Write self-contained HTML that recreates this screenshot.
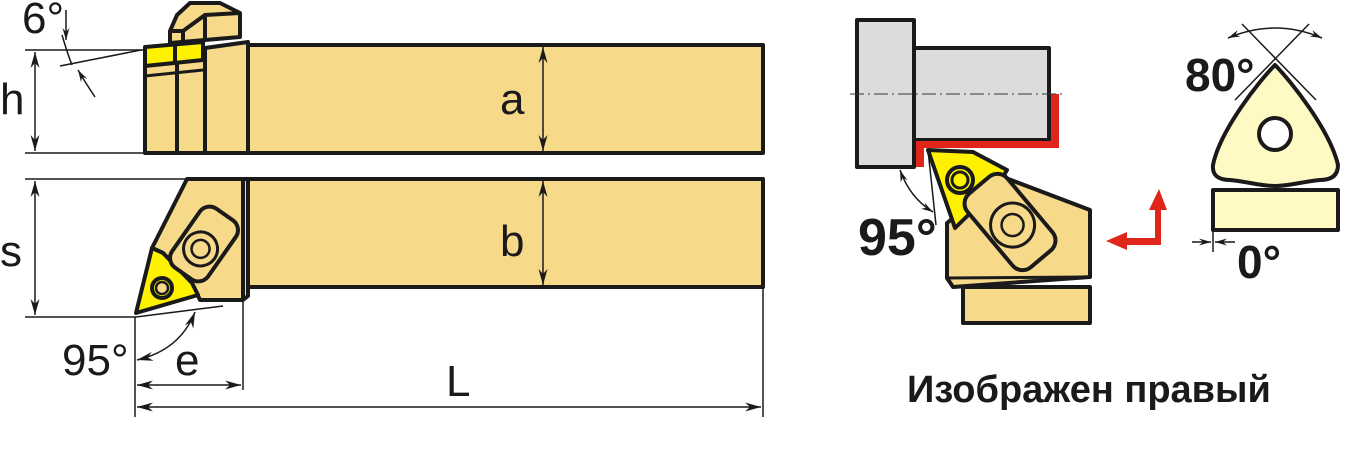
<!DOCTYPE html>
<html><head><meta charset="utf-8"><style>html,body{margin:0;padding:0;background:#fff}svg{display:block}</style></head>
<body>
<svg width="1358" height="467" viewBox="0 0 1358 467" xmlns="http://www.w3.org/2000/svg" font-family="Liberation Sans, sans-serif">
<defs>
<marker id="ar" viewBox="0 0 16 9" refX="16" refY="4.5" markerWidth="16" markerHeight="9" markerUnits="userSpaceOnUse" orient="auto-start-reverse"><path d="M0,0 L16,4.5 L0,9 L5,4.5 Z" fill="#1a1a1a"/></marker>
<marker id="as" viewBox="0 0 12 7" refX="12" refY="3.5" markerWidth="12" markerHeight="7" markerUnits="userSpaceOnUse" orient="auto-start-reverse"><path d="M0,0 L12,3.5 L0,7 L4,3.5 Z" fill="#1a1a1a"/></marker>
</defs>
<g stroke="#1a1a1a" stroke-width="4" stroke-linejoin="round" fill="#F7D98A">
<rect x="248" y="45" width="515" height="108"/>
<path d="M145,153 L145,58 L205,48 L248,42 L248,153 Z"/>
<line x1="177" y1="52" x2="177" y2="153"/>
<line x1="205" y1="48" x2="205" y2="153"/>
<path d="M145,47 L203,42 L203,60 L145,66 Z" fill="#FFF200"/>
<line x1="175" y1="44" x2="175" y2="63"/>
<path d="M145,76 L203,70" fill="none" stroke-width="3"/>
<path d="M170,43 L170,31 L177,15 L190,3 L220,3 L240,13 L240,37 L205,40 Z"/>
<path d="M170,31 L183,31 L205,15 L205,39 M183,31 L183,42 M205,15 L240,13" fill="none"/>
<rect x="248" y="179" width="515" height="108"/>
<path d="M187,179 L248,179 L248,296 L243,300 L200,300 L192,283 L163,253 L152,248 Z"/>
<line x1="243" y1="179" x2="243" y2="300"/>
<path d="M152,248 L163,253 L192,283 L198,295 L136,313 Z" fill="#FFF200"/>
<circle cx="162" cy="288" r="10" fill="#FFF200"/>
<circle cx="162" cy="288" r="6" fill="#F7D98A" stroke-width="2.5"/>
<g transform="translate(204,244) rotate(-55)">
<rect x="-36" y="-22" width="72" height="44" rx="12" fill="#F7D98A"/>
<circle cx="-6" cy="0" r="17" fill="#F7D98A" stroke-width="3"/>
<circle cx="-6" cy="0" r="9" fill="none" stroke-width="2.5"/>
</g>
<rect x="857" y="20" width="57" height="147" fill="#DCDCDC"/>
<rect x="914" y="48" width="135" height="92" fill="#DCDCDC"/>
</g>
<path d="M1051,94 L1059,94 L1059,148 L924,148 L924,167 L916,167 L916,141 L1051,141 Z" fill="#E0261B"/>
<line x1="850" y1="94" x2="1066" y2="94" stroke="#333" stroke-width="1" stroke-dasharray="14,4,2,4"/>
<g stroke="#1a1a1a" stroke-width="4" stroke-linejoin="round" fill="#F7D98A">
<rect x="963" y="287" width="127" height="36"/>
<path d="M947,223 L1003,177 L1090,210 L1090,277 L953,287 L947,278 Z"/>
<path d="M947,278 L1090,277" fill="none" stroke-width="3"/>
<path d="M928,150 L973,152 L1007,170 L997,187 L955,228 Z" fill="#FFF200"/>
<circle cx="960" cy="180" r="13" fill="#FFF200"/>
<circle cx="960" cy="180" r="8" fill="#FFF200" stroke-width="3"/>
<g transform="translate(1010,222) rotate(50)">
<rect x="-48" y="-26" width="96" height="52" rx="13" fill="#F7D98A"/>
<circle cx="4" cy="0" r="22" fill="#F7D98A" stroke-width="3"/>
<circle cx="4" cy="0" r="11" fill="none" stroke-width="2.5"/>
</g>
<path d="M1275,65 C1290,80 1330,130 1338,165 C1338,175 1332,180 1320,180 C1300,182 1290,186 1275,186 C1260,186 1250,182 1230,180 C1218,180 1212,175 1213,165 C1220,130 1260,80 1275,65 Z" fill="#FFF9C4"/>
<circle cx="1275" cy="134" r="16" fill="#fff"/>
<rect x="1213" y="190" width="125" height="40" fill="#FFF9C4"/>
</g>
<path d="M1106,241 L1127,232 L1127,238 L1155,238 L1155,210 L1149,210 L1159,189 L1167,210 L1161,210 L1161,245 L1127,245 L1127,250 Z" fill="#E0261B"/>
<g stroke="#1a1a1a" stroke-width="1.5" fill="none">
<line x1="25" y1="50" x2="145" y2="50"/><line x1="25" y1="153" x2="145" y2="153"/>
<line x1="35" y1="52" x2="35" y2="151" marker-start="url(#ar)" marker-end="url(#ar)"/>
<line x1="543" y1="47" x2="543" y2="151" marker-start="url(#ar)" marker-end="url(#ar)"/>
<line x1="60" y1="66" x2="141" y2="50"/>
<line x1="66" y1="10" x2="66" y2="40" marker-end="url(#as)"/>
<path d="M62,35 Q68,55 72,65"/>
<path d="M95,97 Q85,82 78,70" marker-end="url(#as)"/>
<line x1="25" y1="179" x2="187" y2="179"/><line x1="25" y1="317" x2="136" y2="317"/>
<line x1="35" y1="181" x2="35" y2="315" marker-start="url(#ar)" marker-end="url(#ar)"/>
<line x1="543" y1="181" x2="543" y2="285" marker-start="url(#ar)" marker-end="url(#ar)"/>
<line x1="136" y1="317" x2="223" y2="306"/>
<line x1="135" y1="317" x2="135" y2="417"/>
<line x1="243" y1="300" x2="243" y2="390"/>
<line x1="763" y1="287" x2="763" y2="417"/>
<path d="M137,360 Q180,350 195,312" marker-start="url(#ar)" marker-end="url(#ar)"/>
<line x1="137" y1="385" x2="241" y2="385" marker-start="url(#ar)" marker-end="url(#ar)"/>
<line x1="137" y1="407" x2="761" y2="407" marker-start="url(#ar)" marker-end="url(#ar)"/>
<line x1="928" y1="150" x2="936" y2="225"/>
<path d="M900,170 Q910,198 933,212" marker-start="url(#as)" marker-end="url(#as)"/>
<line x1="1242" y1="24" x2="1316" y2="100"/>
<line x1="1309" y1="24" x2="1235" y2="100"/>
<path d="M1228,38 Q1275,18 1322,38" marker-start="url(#as)" marker-end="url(#as)"/>
<line x1="1213" y1="230" x2="1213" y2="252"/>
<line x1="1192" y1="242" x2="1211" y2="242" marker-end="url(#as)"/>
<line x1="1235" y1="242" x2="1215" y2="242" marker-end="url(#as)"/>
</g>
<g fill="#1a1a1a" font-size="44">
<text x="22" y="33">6°</text>
<text x="0" y="114">h</text>
<text x="500" y="114">a</text>
<text x="0" y="266">s</text>
<text x="500" y="256">b</text>
<text x="62" y="375">95°</text>
<text x="175" y="375">e</text>
<text x="446" y="396">L</text>
</g>
<g fill="#1a1a1a" font-weight="bold">
<text x="858" y="255" font-size="52">95°</text>
<text x="1185" y="91" font-size="46">80°</text>
<text x="1237" y="278" font-size="46">0°</text>
<text x="907" y="402" font-size="38">Изображен правый</text>
</g>
</svg>
</body></html>
